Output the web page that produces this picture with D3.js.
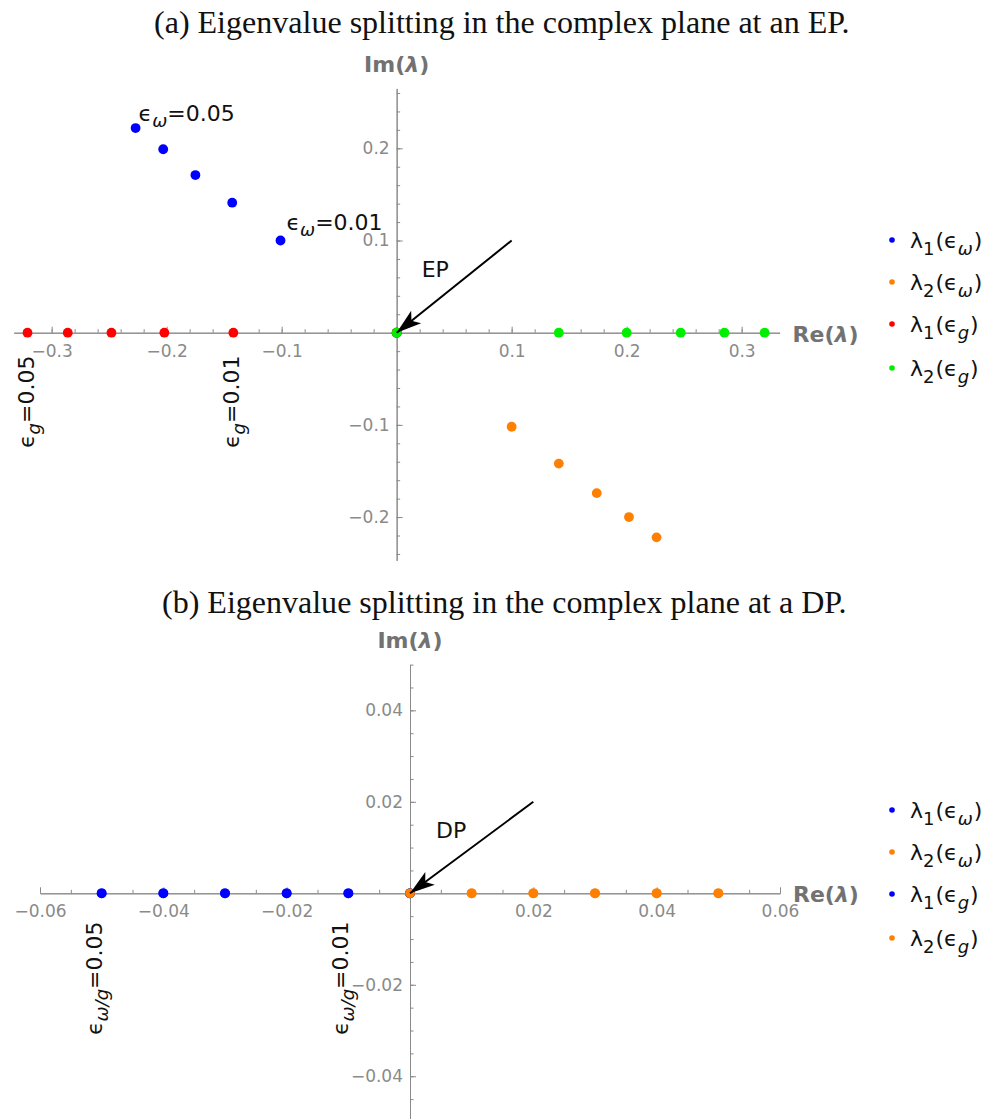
<!DOCTYPE html>
<html>
<head>
<meta charset="utf-8">
<script src="https://cdn.jsdelivr.net/npm/d3@7"></script>
<style>
  body { margin: 0; background: #fff; }
  svg { display: block; }
</style>
</head>
<body>
<div id="chart-area"></div>
<script>
/* ---- data ---- */

// (a) EP : eps = 0, 0.01 ... 0.05
const epsValues = [0, 0.01, 0.02, 0.03, 0.04, 0.05]

const epLam1OmegaRe = [0, -0.101, -0.143, -0.175, -0.203, -0.227]
const epLam1OmegaIm = [0, 0.100, 0.141, 0.171, 0.199, 0.222]
const epLam2OmegaRe = [0, 0.100, 0.141, 0.174, 0.202, 0.226]
const epLam2OmegaIm = [0, -0.102, -0.142, -0.174, -0.200, -0.222]
const epLam1GRe = [0, -0.142, -0.202, -0.248, -0.286, -0.321]
const epLam1GIm = [0, 0, 0, 0, 0, 0]
const epLam2GRe = [0, 0.141, 0.200, 0.247, 0.285, 0.320]
const epLam2GIm = [0, 0, 0, 0, 0, 0]

// (b) DP
const dpLam1OmegaRe = [0, -0.01, -0.02, -0.03, -0.04, -0.05]
const dpLam1OmegaIm = [0, 0, 0, 0, 0, 0]
const dpLam2OmegaRe = [0, 0.01, 0.02, 0.03, 0.04, 0.05]
const dpLam2OmegaIm = [0, 0, 0, 0, 0, 0]
const dpLam1GRe = [0, -0.01, -0.02, -0.03, -0.04, -0.05]
const dpLam1GIm = [0, 0, 0, 0, 0, 0]
const dpLam2GRe = [0, 0.01, 0.02, 0.03, 0.04, 0.05]
const dpLam2GIm = [0, 0, 0, 0, 0, 0]

// ticks
const epXTicks = [-0.3, -0.2, -0.1, 0.1, 0.2, 0.3]
const epYTicks = [-0.2, -0.1, 0.1, 0.2]
const dpXTicks = [-0.06, -0.04, -0.02, 0.02, 0.04, 0.06]
const dpYTicks = [-0.04, -0.02, 0.02, 0.04]

const titleA = '(a) Eigenvalue splitting in the complex plane at an EP.'
const titleB = '(b) Eigenvalue splitting in the complex plane at a DP.'

/* ---- canvas ---- */
const W = 989, H = 1119
const FONT = 'DejaVu Sans, sans-serif'
const AXIS_GREY = '#8a8a8a'
const LABEL_GREY = '#727272'

const $svg = d3.select('#chart-area').append('svg')
	.attr('width', W)
	.attr('height', H)
	.attr('font-family', FONT)

// writes text made of pieces, some of them subscripts
function richText(parent, parts, size, subSize, subShift) {
	const $t = parent.append('text').attr('font-size', size)
	let shift = 0
	parts.forEach(p => {
		const s = p.sub ? subShift : 0
		const $s = $t.append('tspan').attr('dy', s - shift).text(p.t)
		if (p.sub) $s.attr('font-size', subSize)
		if (p.italic) $s.attr('font-style', 'italic')
		if (p.dx) $s.attr('dx', p.dx)
		shift = s
	})
	return $t
}

function fitTitle(text, x, y, width) {
	const $t = $svg.append('text')
		.attr('x', x).attr('y', y)
		.attr('font-family', 'Liberation Serif, serif')
		.attr('font-size', 24)
		.attr('fill', '#111')
		.text(text)
	const w = $t.node().getComputedTextLength()
	$t.attr('font-size', 24 * width / w)
}

function drawArrow(g, x0, y0, x1, y1) {
	g.append('line')
		.attr('x1', x0).attr('y1', y0)
		.attr('x2', x1).attr('y2', y1)
		.attr('stroke', '#000').attr('stroke-width', 2)
	const dx = x0 - x1, dy = y0 - y1
	const len = Math.hypot(dx, dy)
	const ux = dx / len, uy = dy / len
	const px = -uy, py = ux
	const hl = 25, hw = 8, notch = 19
	const pts = [
		[x1, y1],
		[x1 + ux * hl + px * hw, y1 + uy * hl + py * hw],
		[x1 + ux * notch, y1 + uy * notch],
		[x1 + ux * hl - px * hw, y1 + uy * hl - py * hw]
	]
	g.append('polygon')
		.attr('points', pts.map(p => p.join(',')).join(' '))
		.attr('fill', '#000')
}

function panel(cfg) {
	const $g = $svg.append('g')
	const x = cfg.x, y = cfg.y

	// axes
	$g.append('g')
		.attr('transform', `translate(0, ${y(0)})`)
		.call(d3.axisBottom(x).tickValues(cfg.xMinor).tickSize(-3.5).tickSizeOuter(0).tickFormat(''))
	$g.append('g')
		.attr('transform', `translate(0, ${y(0)})`)
		.call(d3.axisBottom(x).tickValues(cfg.xTicks).tickSize(-6).tickSizeOuter(0)
			.tickPadding(12).tickFormat(d3.format(cfg.fmt)))
	$g.append('g')
		.attr('transform', `translate(${x(0)}, 0)`)
		.call(d3.axisLeft(y).tickValues(cfg.yMinor).tickSize(-3.5).tickSizeOuter(0).tickFormat(''))
	$g.append('g')
		.attr('transform', `translate(${x(0)}, 0)`)
		.call(d3.axisLeft(y).tickValues(cfg.yTicks).tickSize(-6).tickSizeOuter(0)
			.tickPadding(7).tickFormat(d3.format(cfg.fmt)))

	$g.selectAll('.domain, .tick line').attr('stroke', AXIS_GREY).attr('stroke-width', 1)
	$g.selectAll('.tick text')
		.attr('fill', AXIS_GREY)
		.attr('font-size', 17)
		.attr('font-family', FONT)

	// axis labels
	richText($g, [{ t: 'Im(' }, { t: 'λ', italic: true }, { t: ')' }], 22, 22, 0)
		.attr('x', x(0)).attr('y', cfg.imY)
		.attr('text-anchor', 'middle')
		.attr('font-weight', 'bold')
		.attr('fill', LABEL_GREY)
	richText($g, [{ t: 'Re(' }, { t: 'λ', italic: true }, { t: ')' }], 22, 22, 0)
		.attr('x', x.range()[1] + 13).attr('y', y(0) + 9)
		.attr('font-weight', 'bold')
		.attr('fill', LABEL_GREY)

	// points
	cfg.series.forEach(s => {
		$g.append('g').selectAll('circle')
			.data(s.re.map((r, i) => ({ re: r, im: s.im[i] })))
			.enter()
			.append('circle')
			.attr('cx', d => x(d.re))
			.attr('cy', d => y(d.im))
			.attr('r', 4.9)
			.attr('fill', s.color)
	})

	// arrow + name
	drawArrow($g, x(cfg.arrowFrom[0]), y(cfg.arrowFrom[1]), x(0), y(0))
	$g.append('text')
		.attr('x', x(0) + cfg.nameDx).attr('y', cfg.nameY)
		.attr('font-size', 22)
		.attr('fill', '#111')
		.text(cfg.name)

	// legend
	const $leg = $g.append('g')
	cfg.series.forEach((s, i) => {
		const ly = cfg.legendY[i]
		$leg.append('circle')
			.attr('cx', 892).attr('cy', ly).attr('r', 2.8)
			.attr('fill', s.color)
		richText($leg, s.label, 22, 18, 7)
			.attr('x', 910).attr('y', ly + 8)
			.attr('fill', '#111')
	})
	return $g
}

/* ---- (a) EP ---- */
fitTitle(titleA, 154, 33, 696)

const xA = d3.scaleLinear().domain([-0.333, 0.333]).range([13.7, 779.6])
const yA = d3.scaleLinear().domain([-0.247, 0.265]).range([560.4, 88.4])

const lamLabel = (n, sub) => [
	{ t: 'λ' }, { t: n, sub: true }, { t: '(', dx: 1 }, { t: 'ϵ' },
	{ t: sub, sub: true, italic: true }, { t: ')', dx: 1 }
]

const $a = panel({
	x: xA, y: yA,
	xTicks: epXTicks, yTicks: epYTicks,
	xMinor: d3.range(-16, 17).map(i => i / 50),
	yMinor: d3.range(-12, 14).map(i => i / 50),
	fmt: '.1f',
	imY: 72,
	arrowFrom: [0.1, 0.1],
	name: 'EP', nameDx: 25, nameY: 277,
	legendY: [240, 282, 324, 368],
	series: [
		{ re: epLam1OmegaRe, im: epLam1OmegaIm, color: '#0000ff', label: lamLabel('1', 'ω') },
		{ re: epLam2OmegaRe, im: epLam2OmegaIm, color: '#ff7f00', label: lamLabel('2', 'ω') },
		{ re: epLam1GRe, im: epLam1GIm, color: '#ff0000', label: lamLabel('1', 'g') },
		{ re: epLam2GRe, im: epLam2GIm, color: '#00ee00', label: lamLabel('2', 'g') }
	]
})

// eps labels next to blue points
const i05 = epsValues.indexOf(0.05), i01 = epsValues.indexOf(0.01)
const epsParts = (sub, v) => [{ t: 'ϵ' }, { t: sub, sub: true, italic: true }, { t: '=' + d3.format('.2f')(v) }]

richText($a, epsParts('ω', 0.05), 22, 18, 6)
	.attr('x', xA(epLam1OmegaRe[i05]) + 3).attr('y', yA(epLam1OmegaIm[i05]) - 7).attr('fill', '#111')
richText($a, epsParts('ω', 0.01), 22, 18, 6)
	.attr('x', xA(epLam1OmegaRe[i01]) + 6).attr('y', yA(epLam1OmegaIm[i01]) - 11).attr('fill', '#111')

// rotated eps_g labels under red points
;[i05, i01].forEach(i => {
	const $g = $a.append('g')
		.attr('transform', `translate(${xA(epLam1GRe[i]) + 6}, 448) rotate(-90)`)
	richText($g, epsParts('g', epsValues[i]), 22, 18, 6)
		.attr('fill', '#111')
})

/* ---- (b) DP ---- */
fitTitle(titleB, 162, 613, 685)

const xB = d3.scaleLinear().domain([-0.06, 0.06]).range([40, 780])
const yB = d3.scaleLinear().domain([-0.05, 0.05]).range([1122, 664.6])

const $b = panel({
	x: xB, y: yB,
	xTicks: dpXTicks, yTicks: dpYTicks,
	xMinor: d3.range(-12, 13).map(i => i / 200),
	yMinor: d3.range(-10, 11).map(i => i / 200),
	fmt: '.2f',
	imY: 648,
	arrowFrom: [0.02, 0.02],
	name: 'DP', nameDx: 26, nameY: 838,
	legendY: [810, 852, 894, 938],
	series: [
		{ re: dpLam1OmegaRe, im: dpLam1OmegaIm, color: '#0000ff', label: lamLabel('1', 'ω') },
		{ re: dpLam2OmegaRe, im: dpLam2OmegaIm, color: '#ff7f00', label: lamLabel('2', 'ω') },
		{ re: dpLam1GRe, im: dpLam1GIm, color: '#0000ff', label: lamLabel('1', 'g') },
		{ re: dpLam2GRe, im: dpLam2GIm, color: '#ff7f00', label: lamLabel('2', 'g') }
	]
})

;[i05, i01].forEach(i => {
	const $g = $b.append('g')
		.attr('transform', `translate(${xB(dpLam1OmegaRe[i])}, 1035) rotate(-90)`)
	richText($g, epsParts('ω/g', epsValues[i]), 22, 18, 6)
		.attr('fill', '#111')
})
</script>
</body>
</html>
